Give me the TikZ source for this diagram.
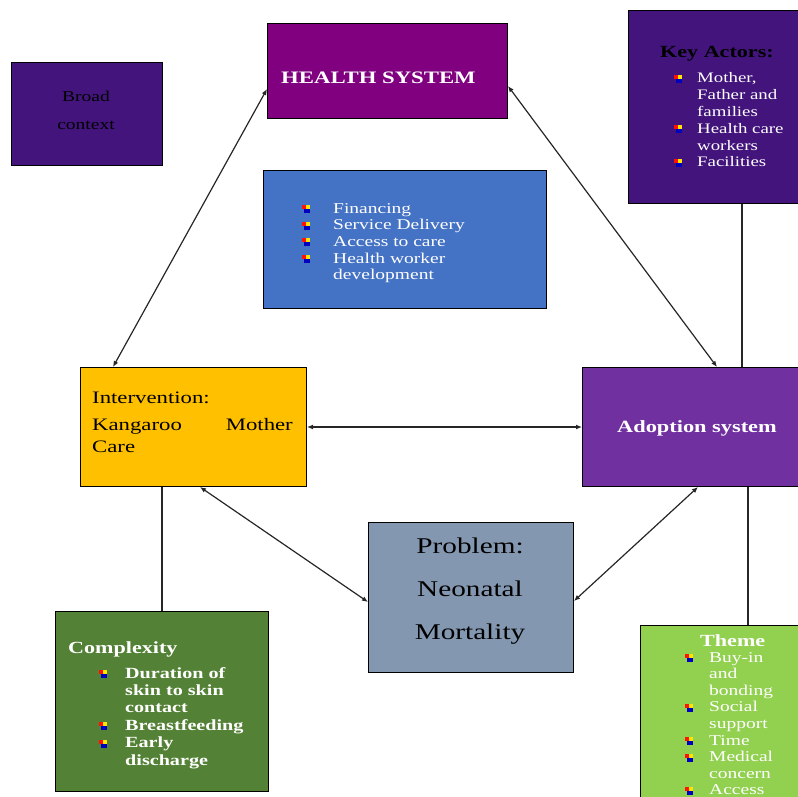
\documentclass[tikz,border=0pt]{standalone}
\usepackage{fontspec}
\setmainfont{Liberation Serif}[FakeStretch=1.3]
\usetikzlibrary{arrows.meta}
\definecolor{deeppurple}{HTML}{42147C}
\definecolor{hspurple}{HTML}{800080}
\definecolor{boxblue}{HTML}{4472C4}
\definecolor{ivgold}{HTML}{FFC000}
\definecolor{adpurple}{HTML}{7030A0}
\definecolor{pbgrey}{HTML}{8497B0}
\definecolor{cxgreen}{HTML}{538135}
\definecolor{thgreen}{HTML}{92D050}
\begin{document}
\begin{tikzpicture}[x=1pt,y=-1pt,
  box/.style={draw=black, line width=1pt, inner sep=0pt, anchor=north west},
  link/.style={draw=black!85, line width=1.2pt, {Latex[length=6pt,width=5pt]}-{Latex[length=6pt,width=5pt]}},
  plain/.style={draw=black!85, line width=1.2pt},
  txt/.style={anchor=base west, inner sep=0pt, font=\fontsize{15}{17}\selectfont},
  bul/.pic={
    \fill[red!85!orange] (-4,-4) rectangle (0,0);
    \fill[yellow!90!orange] (0,-4) rectangle (4,0);
    \fill[blue!75!black] (-2,0) rectangle (4,4);
  }]
\useasboundingbox (0,0) rectangle (798,797);
% boxes
\node[box, fill=deeppurple, minimum width=151pt, minimum height=103pt] (bc) at (11,62) {};
\node[box, fill=hspurple, minimum width=240pt, minimum height=95pt] (hs) at (267,23) {};
\node[box, fill=deeppurple, minimum width=175pt, minimum height=193pt] (ka) at (628,10) {};
\node[box, fill=boxblue, minimum width=283pt, minimum height=138pt] (hb) at (263,170) {};
\node[box, fill=ivgold, minimum width=226pt, minimum height=119pt] (iv) at (80,367) {};
\node[box, fill=adpurple, minimum width=221pt, minimum height=119pt] (ad) at (582,367) {};
\node[box, fill=pbgrey, minimum width=205pt, minimum height=150pt] (pb) at (368,522) {};
\node[box, fill=cxgreen, minimum width=213pt, minimum height=180pt] (cx) at (55,611) {};
\node[box, fill=thgreen, minimum width=163pt, minimum height=180pt] (th) at (640,625) {};
% connectors
\draw[link] ([yshift=30pt]hs.south west) -- ([xshift=33pt]iv.north west);
\draw[link] ([yshift=33pt]hs.south east) -- ([xshift=135pt]ad.north west);
\draw[link] (iv.east) -- (ad.west);
\draw[link] ([xshift=120pt]iv.south west) -- ([yshift=71pt]pb.south west);
\draw[link] ([xshift=116pt]ad.south west) -- ([yshift=72pt]pb.south east);
\draw[plain] ([xshift=114pt]ka.south west) -- ([xshift=160pt]ad.north west);
\draw[plain] ([xshift=82pt]iv.south west) -- ([xshift=107pt]cx.north west);
\draw[plain] ([xshift=166pt]ad.south west) -- ([xshift=108pt]th.north west);
% Broad context
\node[anchor=base, inner sep=0pt, font=\fontsize{15}{17}\selectfont, text=black] (bc1) at (86,102) {Broad};
\node[anchor=base, inner sep=0pt, font=\fontsize{15}{17}\selectfont, text=black] (bc2) at (86,130) {context};
% Health system
\node[anchor=base west, inner sep=0pt, text=white, font=\fontsize{17.5}{20}\bfseries\selectfont] (hst) at (281,84) {HEALTH SYSTEM};
% Key actors
\node[txt, font=\fontsize{17}{19}\bfseries\selectfont, text=black] (kat) at (660,58) {Key Actors:};
\foreach \t [count=\i] in {{Mother,}, Father and, families, Health care, workers, Facilities}
  \node[txt, text=white, font=\fontsize{14.5}{17}\selectfont] (ka\i) at (697,{83+(\i-1)*16.8}) {\t};
\foreach \i in {1,4,6}
  \pic at (678,{79+(\i-1)*16.8}) {bul};
% Blue box
\foreach \t [count=\i] in {Financing, Service Delivery, Access to care, Health worker, development}
  \node[txt, text=white] (hb\i) at (333,{213+(\i-1)*16.7}) {\t};
\foreach \i in {1,2,3,4}
  \pic at (306,{209+(\i-1)*16.7}) {bul};
% Intervention
\node[txt, font=\fontsize{17.5}{19}\selectfont] (iv1) at (92,403) {Intervention:};
\node[txt, font=\fontsize{17.5}{19}\selectfont] (iv2) at (92,430) {Kangaroo};
\node[anchor=base east, inner sep=0pt, font=\fontsize{17.5}{19}\selectfont] (iv3) at (293,430) {Mother};
\node[txt, font=\fontsize{17.5}{19}\selectfont] (iv4) at (92,452) {Care};
% Adoption
\node[anchor=base, inner sep=0pt, text=white, font=\fontsize{17.2}{19}\bfseries\selectfont] (adt) at (697,432) {Adoption system};
% Problem
\node[anchor=base, inner sep=0pt, font=\fontsize{22.5}{24}\selectfont] (pb1) at (470,553) {Problem:};
\node[anchor=base, inner sep=0pt, font=\fontsize{22.5}{24}\selectfont] (pb2) at (470,596) {Neonatal};
\node[anchor=base, inner sep=0pt, font=\fontsize{22.5}{24}\selectfont] (pb3) at (470,639) {Mortality};
% Complexity
\node[txt, text=white, font=\fontsize{17}{19}\bfseries\selectfont] (cxt) at (68,653) {Complexity};
\foreach \t [count=\i] in {Duration of, skin to skin, contact, Breastfeeding, Early, discharge}
  \node[txt, text=white, font=\fontsize{15.5}{17}\bfseries\selectfont] (cx\i) at (125,{678+(\i-1)*17.4}) {\t};
\foreach \i in {1,4,5}
  \pic at (103,{674+(\i-1)*17.4}) {bul};
% Theme
\node[txt, text=white, font=\fontsize{17}{19}\bfseries\selectfont] (tht) at (700,646) {Theme};
\foreach \t [count=\i] in {Buy-in, and, bonding, Social, support, Time, Medical, concern, Access}
  \node[txt, text=white] (th\i) at (709,{662+(\i-1)*16.6}) {\t};
\foreach \i in {1,4,6,7,9}
  \pic at (689,{658+(\i-1)*16.6}) {bul};
\end{tikzpicture}
\end{document}
